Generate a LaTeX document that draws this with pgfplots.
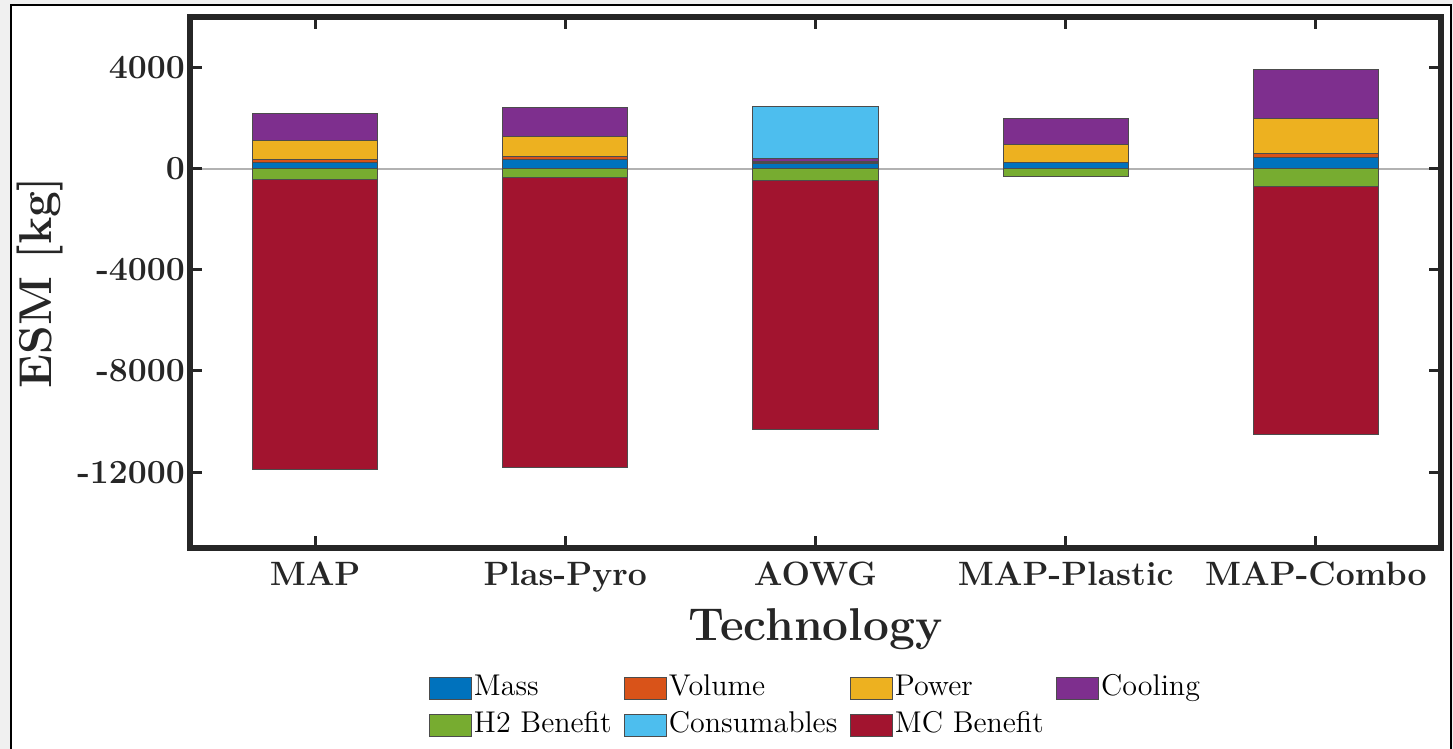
\documentclass[border=0pt]{standalone}
\usepackage{pgfplots}
\usepackage{pgfplotstable}
\pgfplotsset{compat=1.18}
\definecolor{cMass}{HTML}{0072BD}
\definecolor{cVol}{HTML}{D95319}
\definecolor{cPow}{HTML}{EDB120}
\definecolor{cCool}{HTML}{7E2F8E}
\definecolor{cH2}{HTML}{77AC30}
\definecolor{cCons}{HTML}{4DBEEE}
\definecolor{cMC}{HTML}{A2142F}
\definecolor{axgray}{HTML}{262626}
\definecolor{bggray}{HTML}{F0F0F0}

\pgfplotstableread{
x Mass Volume Power Cooling Cons H2 MC
1 250 110 750 1080 0 -420 -11490
2 354 118 800 1130 0 -330 -11470
3 200 40 60 100 2050 -470 -9860
4 240 15 720 1030 0 -300 0
5 460 130 1380 1940 0 -710 -9820
}\datatable

\pgfplotsset{
  base/.style={
    scale only axis, width=500.4pt, height=212.4pt,
    at={(76pt,80.4pt)}, anchor=south west,
    xmin=0.5, xmax=5.5, ymin=-15000, ymax=6000,
    ybar stacked, bar width=0.5,
  },
  barsty/.style={fill=#1, draw=black!70, line width=0.4pt},
  legbox/.style={legend image code/.code={\draw[##1] (0pt,-4.4pt) rectangle (16.8pt,4.4pt);}, fill=#1, draw=black!70, line width=0.4pt},
}

\begin{document}
\begin{tikzpicture}
\useasboundingbox (0,0) rectangle (581.2pt,299.6pt);
\fill[bggray] (0,0) rectangle (581.2pt,299.6pt);
\filldraw[fill=white, draw=black, line width=0.7pt] (4.4pt,-5pt) rectangle (580.4pt,297.6pt);

\begin{axis}[base,
  axis line style={line width=2.2pt, color=axgray},
  every tick/.style={line width=1.2pt, color=axgray},
  major tick length=4.8pt,
  xtick={1,2,3,4,5},
  xticklabels={MAP,Plas-Pyro,AOWG,MAP-Plastic,MAP-Combo},
  ytick={-12000,-8000,-4000,0,4000},
  scaled y ticks=false,
  /pgf/number format/assume math mode=true,
  /pgf/number format/1000 sep={},
  yticklabel style={font=\fontsize{13.5}{16}\selectfont\bfseries, color=axgray, xshift=1.5pt},
  xticklabel style={font=\fontsize{13.5}{16}\selectfont\bfseries, color=axgray, yshift=-2pt},
  extra y ticks={0}, extra y tick labels={},
  extra y tick style={grid=major, major grid style={color=black!30, line width=0.7pt}},
  xlabel={Technology}, ylabel={ESM [kg]},
  label style={font=\fontsize{18.4}{22}\selectfont\bfseries, color=axgray},
  xlabel style={at={(axis description cs:0.5,-0.174)}, anchor=base},
  ylabel style={at={(axis description cs:-0.12,0.5)}, anchor=center},
]
\addplot[barsty=cMass, forget plot] table[x=x, y=Mass]{\datatable};
\addplot[barsty=cVol, forget plot] table[x=x, y=Volume]{\datatable};
\addplot[barsty=cPow, forget plot] table[x=x, y=Power]{\datatable};
\addplot[barsty=cCool, forget plot] table[x=x, y=Cooling]{\datatable};
\addplot[barsty=cCons, forget plot] table[x=x, y=Cons]{\datatable};
\end{axis}

\begin{axis}[base, hide axis,
  legend columns=4,
  legend cell align=left,
  legend style={at={(0.5,-0.2994)}, anchor=center, draw=none, fill=none,
    font=\fontsize{12}{14}\selectfont, row sep=1.6pt,
    /tikz/every even column/.append style={column sep=4.2pt},
    nodes={inner sep=0.8pt, text height=8.5pt, text depth=3pt}},
]
\addplot[barsty=cH2, forget plot] table[x=x, y=H2]{\datatable};
\addplot[barsty=cMC, forget plot] table[x=x, y=MC]{\datatable};
\addlegendimage{legbox=cMass}\addlegendentry{Mass}
\addlegendimage{legbox=cVol}\addlegendentry{Volume}
\addlegendimage{legbox=cPow}\addlegendentry{Power}
\addlegendimage{legbox=cCool}\addlegendentry{Cooling}
\addlegendimage{legbox=cH2}\addlegendentry{H2 Benefit}
\addlegendimage{legbox=cCons}\addlegendentry{Consumables}
\addlegendimage{legbox=cMC}\addlegendentry{MC Benefit}
\end{axis}
\end{tikzpicture}
\end{document}
